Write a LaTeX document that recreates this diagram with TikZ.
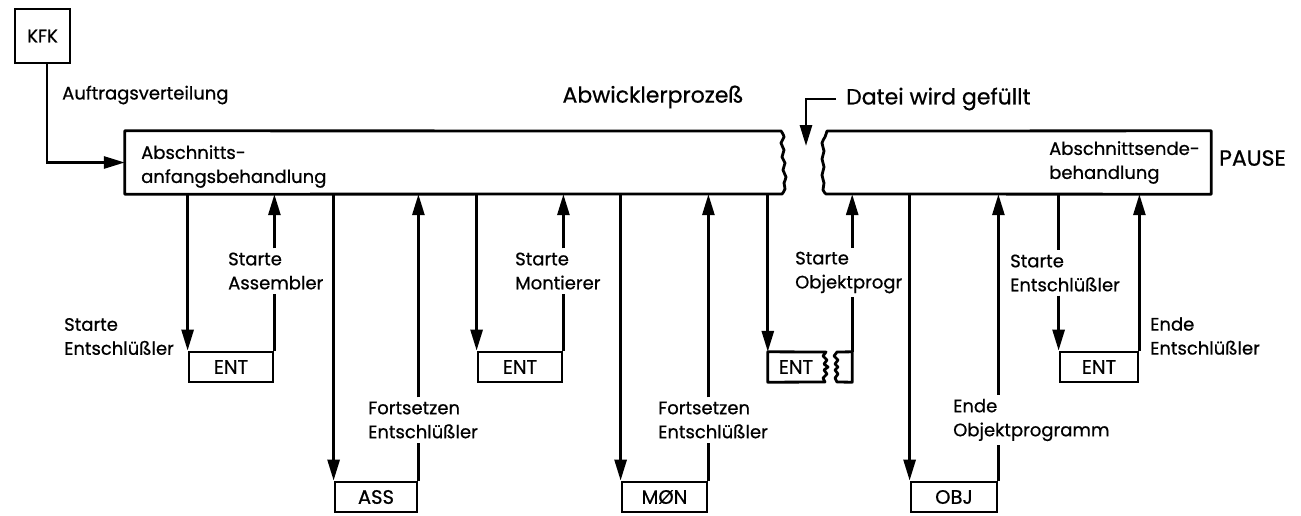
\documentclass[tikz,border=0pt]{standalone}
\usepackage{fontspec}
\setmainfont{Poppins}
\newfontfamily\dfont{Poppins}[FakeBold=0.7]
\usetikzlibrary{arrows.meta,calc}
\begin{document}
\begin{tikzpicture}[x=1pt,y=-1pt,
  every node/.style={font=\dfont\fontsize{18}{24}\selectfont, inner sep=0pt},
  big/.style={font=\dfont\fontsize{22}{26}\selectfont},
  ln/.style={line width=2.8pt,line join=round},
  arr/.style={line width=2.8pt,-{Triangle[length=21pt,width=12pt]}},
  sbox/.style={draw,line width=2.8pt,minimum width=#1pt,minimum height=30pt,inner sep=0pt,font=\dfont\fontsize{19.5}{24}\selectfont},
  lbl/.style={align=left,anchor=west,inner xsep=0pt,inner ysep=4pt},
  ]
\useasboundingbox (0,0) rectangle (1301,515);
\fill[white] (0,0) rectangle (1301,515);

% top-level boxes
\node[sbox=55, minimum height=54pt, font=\dfont\fontsize{18}{24}\selectfont] (kfk) at (42.5,36) {KFK};
\node[minimum width=658pt,minimum height=63pt] (lb) at (454,162.5) {};
\node[minimum width=388pt,minimum height=63pt] (rb) at (1017,162.5) {};

\draw[ln] (781,131) -- (lb.north west) -- (lb.south west) -- (782,194)
  -- plot[smooth,tension=0.6] coordinates {(782,194) (785,189) (784,183) (786,177) (783,170) (785,163) (782,157) (784,150) (781,143) (784,137) (781,131)} -- cycle;
\draw[ln] (827,131) -- (rb.north east) -- (rb.south east) -- (826,194)
  -- plot[smooth,tension=0.6] coordinates {(826,194) (823,190) (824,183) (822,175) (824,167) (822,159) (824,151) (822,143) (825,137) (827,131)} -- cycle;

\node[anchor=west,align=left] (lbt) at (141,166.5) {Abschnitts-\\anfangsbehandlung};
\node[anchor=west,align=left] (rbt) at (1049,162.5) {Abschnittsende-\\behandlung};
\node[anchor=west,big] (pause) at (1219,158) {PAUSE};
\node[big] (abw) at (653,97) {Abwicklerprozeß};
\node[anchor=west,inner xsep=10pt,big] (datei) at (836,99) {Datei wird gefüllt};
\coordinate (dtip) at (806,146);
\draw[arr] (datei.west) -| (dtip);
\node[anchor=west] (auf) at (62,95) {Auftragsverteilung};
\draw[arr] ([xshift=4.5pt]kfk.south) |- (lb.west);

% small boxes
\node[sbox=84] (ent1) at (231,367) {ENT};
\node[sbox=82] (ass) at (376,497) {ASS};
\node[sbox=84] (ent2) at (520,367) {ENT};
\node[sbox=85] (mon) at (664.5,497) {MØN};
\node[minimum width=84pt,minimum height=30pt] (ent3) at (810,367) {};
\node[font=\dfont\fontsize{19.5}{24}\selectfont] (ent3t) at (796,367) {ENT};
\draw[ln] (826,352) -- (ent3.north west) -- (ent3.south west) -- (825,382)
  -- (823,378) -- (827,374) -- (824,370) -- (828,367) -- (824,364) -- (827,360) -- (823,356) -- cycle;
\draw[ln] (837,352) -- (ent3.north east) -- (ent3.south east) -- (837,382)
  -- (835,378) -- (838,374) -- (835,370) -- (838,367) -- (835,364) -- (838,360) -- (834,356) -- cycle;
\node[sbox=86] (obj) at (954,497) {OBJ};
\node[sbox=78] (ent4) at (1099,367) {ENT};

% labels
\node[lbl] (l0) at (64,336.5) {Starte\\Entschlüßler};
\node[lbl] (l1) at (228,271) {Starte\\Assembler};
\node[lbl] (l2) at (368,420) {Fortsetzen\\Entschlüßler};
\node[lbl] (l3) at (515,271) {Starte\\Montierer};
\node[lbl] (l4) at (658,420) {Fortsetzen\\Entschlüßler};
\node[lbl] (l5) at (795,272.5) {Starte\\Objektprogr};
\node[lbl] (l6) at (953,420) {Ende\\Objektprogramm};
\node[lbl] (l7) at (1010,273) {Starte\\Entschlüßler};
\node[lbl] (l8) at (1150,336) {Ende\\Entschlüßler};

% connectors
\draw[arr] (ent1.north west |- lb.south) -- (ent1.north west);
\draw[ln] (ent1.north east) -- (ent1.north east |- l1.south);
\draw[arr] (ent1.north east |- l1.north) -- (ent1.north east |- lb.south);

\draw[arr] (ass.north west |- lb.south) -- (ass.north west);
\draw[ln] (ass.north east) -- (ass.north east |- l2.south);
\draw[arr] (ass.north east |- l2.north) -- (ass.north east |- lb.south);

\draw[arr] (ent2.north west |- lb.south) -- (ent2.north west);
\draw[ln] (ent2.north east) -- (ent2.north east |- l3.south);
\draw[arr] (ent2.north east |- l3.north) -- (ent2.north east |- lb.south);

\draw[arr] (mon.north west |- lb.south) -- (mon.north west);
\draw[ln] (mon.north east) -- (mon.north east |- l4.south);
\draw[arr] (mon.north east |- l4.north) -- (mon.north east |- lb.south);

\draw[arr] (ent3.north west |- lb.south) -- (ent3.north west);
\draw[ln] (ent3.north east) -- (ent3.north east |- l5.south);
\draw[arr] (ent3.north east |- l5.north) -- (ent3.north east |- rb.south);

\draw[arr] (obj.north west |- rb.south) -- (obj.north west);
\draw[ln] (obj.north east) -- (obj.north east |- l6.south);
\draw[arr] (obj.north east |- l6.north) -- (obj.north east |- rb.south);

\draw[ln] (ent4.north west |- rb.south) -- (ent4.north west |- l7.north);
\draw[arr] (ent4.north west |- l7.south) -- (ent4.north west);
\draw[arr] (ent4.north east) -- (ent4.north east |- rb.south);
\end{tikzpicture}
\end{document}
